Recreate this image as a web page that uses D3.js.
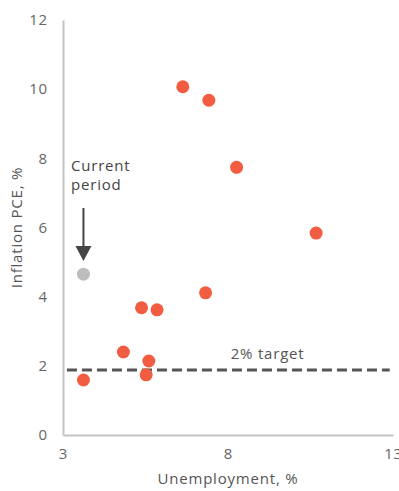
<!DOCTYPE html>
<html>
<head>
<meta charset="utf-8">
<script src="https://cdn.jsdelivr.net/npm/d3@7"></script>
<style>
  body { margin: 0; background: #fff; }
  text { font-family: "Open Sans", Lato, sans-serif; letter-spacing: 0.8px; }
</style>
</head>
<body>
<div id="chart"></div>
<script>
// data
const unemployment = [3.62, 4.83, 5.60, 5.52, 5.38, 5.85, 7.32, 6.63, 7.42, 8.26, 10.67]
const inflation    = [1.59, 2.40, 2.14, 1.74, 3.68, 3.62, 4.11, 10.07, 9.68, 7.74, 5.84]
const current = { x: 3.62, y: 4.65 }
const targetLevel = 1.88
const xTicks = [3, 8, 13]
const yTicks = [0, 2, 4, 6, 8, 10, 12]

const width = 399, height = 491
const margin = { top: 20, right: 6, bottom: 56, left: 63 }

const x = d3.scaleLinear().domain([3, 13]).range([margin.left, width - margin.right])
const y = d3.scaleLinear().domain([0, 12]).range([height - margin.bottom, margin.top])

const svg = d3.select("#chart").append("svg")
  .attr("width", width)
  .attr("height", height)

// axes
const xAxis = svg.append("g")
  .attr("transform", `translate(0, ${y(0)})`)
  .call(d3.axisBottom(x).tickValues(xTicks).tickSize(0).tickPadding(13))
xAxis.select(".domain").attr("stroke", "#c4c4c4").attr("stroke-width", 2)
xAxis.selectAll("text").attr("fill", "#666").style("font-size", "15px")

const yAxis = svg.append("g")
  .attr("transform", `translate(${margin.left}, 0)`)
  .call(d3.axisLeft(y).tickValues(yTicks).tickSize(0).tickPadding(15))
yAxis.select(".domain").attr("stroke", "#c4c4c4").attr("stroke-width", 2)
yAxis.selectAll("text").attr("fill", "#666").style("font-size", "15px")

// axis titles
svg.append("text")
  .attr("x", (x(3) + x(13)) / 2)
  .attr("y", 484)
  .attr("text-anchor", "middle")
  .attr("fill", "#555")
  .style("font-size", "15px")
  .text("Unemployment, %")

svg.append("text")
  .attr("transform", `translate(22, ${y(6)}) rotate(-90)`)
  .attr("text-anchor", "middle")
  .attr("fill", "#555")
  .style("font-size", "15px")
  .text("Inflation PCE, %")

// 2% target line
svg.append("line")
  .attr("x1", x(3.12)).attr("x2", x(12.9))
  .attr("y1", y(targetLevel)).attr("y2", y(targetLevel))
  .attr("stroke", "#555")
  .attr("stroke-width", 3)
  .attr("stroke-dasharray", "10,5")

svg.append("text")
  .attr("x", x(9.2))
  .attr("y", y(targetLevel) - 11)
  .attr("text-anchor", "middle")
  .attr("fill", "#555")
  .style("font-size", "15px")
  .text("2% target")

// points
const pts = unemployment.map((u, i) => ({ x: u, y: inflation[i] }))
svg.selectAll("circle.pt")
  .data(pts)
  .enter().append("circle")
  .attr("class", "pt")
  .attr("cx", d => x(d.x))
  .attr("cy", d => y(d.y))
  .attr("r", 6.5)
  .attr("fill", "#f25c40")

svg.append("circle")
  .attr("cx", x(current.x))
  .attr("cy", y(current.y))
  .attr("r", 6.5)
  .attr("fill", "#bdbdbd")

// annotation
const ax = x(current.x)
svg.append("line")
  .attr("x1", ax).attr("x2", ax)
  .attr("y1", 208).attr("y2", 248)
  .attr("stroke", "#444")
  .attr("stroke-width", 2)
svg.append("path")
  .attr("d", `M${ax - 8},246 L${ax + 8},246 L${ax},261 Z`)
  .attr("fill", "#444")

svg.append("text")
  .attr("x", 71).attr("y", 171)
  .attr("fill", "#444")
  .style("font-size", "15px")
  .text("Current")
svg.append("text")
  .attr("x", 71).attr("y", 190)
  .attr("fill", "#444")
  .style("font-size", "15px")
  .text("period")
</script>
</body>
</html>
